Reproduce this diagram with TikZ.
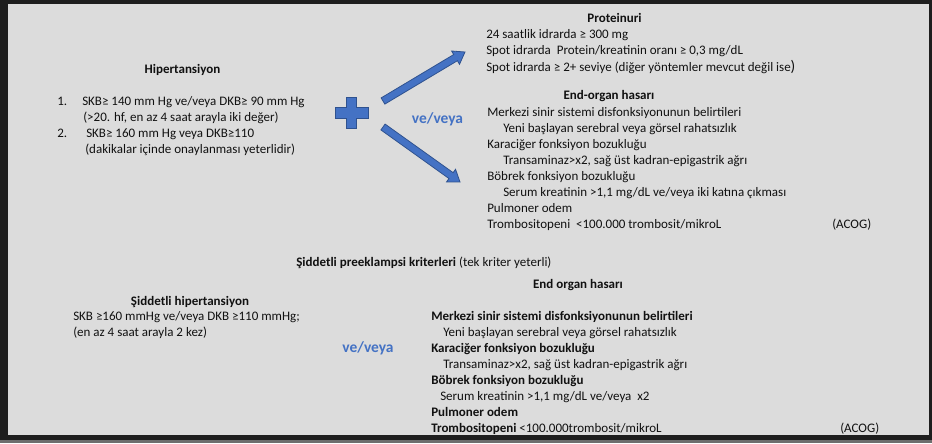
\documentclass[tikz,border=0pt]{standalone}
\usepackage{fontspec}
\setmainfont{Carlito}
\usetikzlibrary{calc}
\definecolor{bgdark}{HTML}{1E1E1E}
\definecolor{panel}{HTML}{DCDCDC}
\definecolor{edgegray}{HTML}{6E6E6E}
\definecolor{oblue}{HTML}{4472C4}
\definecolor{oblueline}{HTML}{2F528F}
\definecolor{txtc}{HTML}{111111}
\newcommand\blockarrowdraw[2]{%
  \coordinate (hb) at ($(#2)!8.25pt!(#1)$);
  \draw[blockarrow] ($(#1)!2.7pt!90:(#2)$) -- ($(hb)!2.7pt!90:(#2)$) -- ($(hb)!5.8pt!90:(#2)$)
    -- (#2) -- ($(hb)!5.8pt!-90:(#2)$) -- ($(hb)!2.7pt!-90:(#2)$) -- ($(#1)!2.7pt!-90:(#2)$) -- cycle;}
\begin{document}
\begin{tikzpicture}[x=0.75pt,y=-0.75pt,
  txt/.style={anchor=base west, inner sep=0pt, text=txtc, font=\fontsize{9.75}{12}\selectfont},
  bld/.style={anchor=base west, inner sep=0pt, text=txtc, font=\fontsize{9.75}{12}\selectfont\bfseries},
  ttl/.style={anchor=base, inner sep=0pt, text=txtc, font=\fontsize{9.75}{12}\selectfont\bfseries},
  vv/.style={anchor=base, inner sep=0pt, text=oblue, font=\fontsize{11.6}{14}\selectfont\bfseries},
  blockarrow/.style={fill=oblue, draw=oblueline, line width=0.6pt, line join=miter},
  plusshape/.style={fill=oblue, draw=oblueline, line width=0.6pt}
]
\useasboundingbox (0,0) rectangle (932,443);
% frame
\fill[edgegray] (0,0) rectangle (932,443);
\fill[bgdark] (0,0) rectangle (932,440);
\fill[panel] (8,4) rectangle (929,435);

% ---- top left
\node[ttl] (hip) at (182.5,73.5) {Hipertansiyon};
\node[txt] (n1) at (57,105) {1.};
\node[txt] (l1) at (82,105) {SKB≥ 140 mm Hg ve/veya DKB≥ 90 mm Hg};
\node[txt] (l1b) at (83,121) {(>20. hf, en az 4 saat arayla iki değer)};
\node[txt] (n2) at (57,137) {2.};
\node[txt] (l2) at (86,137) {SKB≥ 160 mm Hg veya DKB≥110};
\node[txt] (l2b) at (85,153) {(dakikalar içinde onaylanması yeterlidir)};

% plus
\coordinate (plus) at (351.5,113);
\draw[plusshape] ($(plus)+(-5,-15.5)$) -- ($(plus)+(5,-15.5)$) -- ($(plus)+(5,-5.3)$) -- ($(plus)+(16.5,-5.3)$)
  -- ($(plus)+(16.5,5.3)$) -- ($(plus)+(5,5.3)$) -- ($(plus)+(5,15.5)$) -- ($(plus)+(-5,15.5)$)
  -- ($(plus)+(-5,5.3)$) -- ($(plus)+(-16.5,5.3)$) -- ($(plus)+(-16.5,-5.3)$) -- ($(plus)+(-5,-5.3)$) -- cycle;

% arrows
\coordinate (a1s) at (383,101);
\coordinate (a1e) at (465,52);
\coordinate (a2s) at (383,127);
\coordinate (a2e) at (460,182);
\blockarrowdraw{a1s}{a1e}
\blockarrowdraw{a2s}{a2e}
\node[vv] (vv1) at (437.5,123.5) {ve/veya};

% ---- top right
\node[ttl] (prot) at (614.5,22) {Proteinuri};
\node[txt] (p1) at (486,38) {24 saatlik idrarda ≥ 300 mg};
\node[txt] (p2) at (486,54) {Spot idrarda\ \ Protein/kreatinin oranı ≥ 0,3 mg/dL};
\node[txt] (p3) at (486,71) {Spot idrarda ≥ 2+ seviye (diğer yöntemler mevcut değil ise{\fontsize{11.5}{12}\selectfont)}};
\node[ttl] (eoh) at (609,99.5) {End-organ hasarı};
\node[txt] (e1) at (487,116) {Merkezi sinir sistemi disfonksiyonunun belirtileri};
\node[txt] (e1b) at (503,132) {Yeni başlayan serebral veya görsel rahatsızlık};
\node[txt] (e2) at (487,148) {Karaciğer fonksiyon bozukluğu};
\node[txt] (e2b) at (503,164) {Transaminaz>x2, sağ üst kadran-epigastrik ağrı};
\node[txt] (e3) at (487,180) {Böbrek fonksiyon bozukluğu};
\node[txt] (e3b) at (503,196) {Serum kreatinin >1,1 mg/dL ve/veya iki katına çıkması};
\node[txt] (e4) at (487,212) {Pulmoner odem};
\node[txt] (e5) at (487,228) {Trombositopeni\ \ <100.000 trombosit/mikroL};
\node[txt] (acog1) at (832,228) {(ACOG)};

% ---- bottom
\node[txt] (sev) at (296,266.5) {\textbf{Şiddetli preeklampsi kriterleri} (tek kriter yeterli)};
\node[ttl] (eoh2) at (578,288) {End organ hasarı};
\node[ttl] (shyp) at (190,305) {Şiddetli hipertansiyon};
\node[txt] (s1) at (73,320.5) {SKB ≥160 mmHg ve/veya DKB ≥110 mmHg;};
\node[txt] (s2) at (73,336.5) {(en az 4 saat arayla 2 kez)};
\node[vv] (vv2) at (368,352.5) {ve/veya};
\node[bld] (f1) at (431,320.5) {Merkezi sinir sistemi disfonksiyonunun belirtileri};
\node[txt] (f1b) at (443,336.5) {Yeni başlayan serebral veya görsel rahatsızlık};
\node[bld] (f2) at (431,352.5) {Karaciğer fonksiyon bozukluğu};
\node[txt] (f2b) at (443,368.5) {Transaminaz>x2, sağ üst kadran-epigastrik ağrı};
\node[bld] (f3) at (431,384.5) {Böbrek fonksiyon bozukluğu};
\node[txt] (f3b) at (440,400.5) {Serum kreatinin >1,1 mg/dL ve/veya\ \ x2};
\node[bld] (f4) at (431,416.5) {Pulmoner odem};
\node[txt] (f5) at (431,432.5) {\textbf{Trombositopeni} <100.000trombosit/mikroL};
\node[txt] (acog2) at (840,432.5) {(ACOG)};
\end{tikzpicture}
\end{document}
